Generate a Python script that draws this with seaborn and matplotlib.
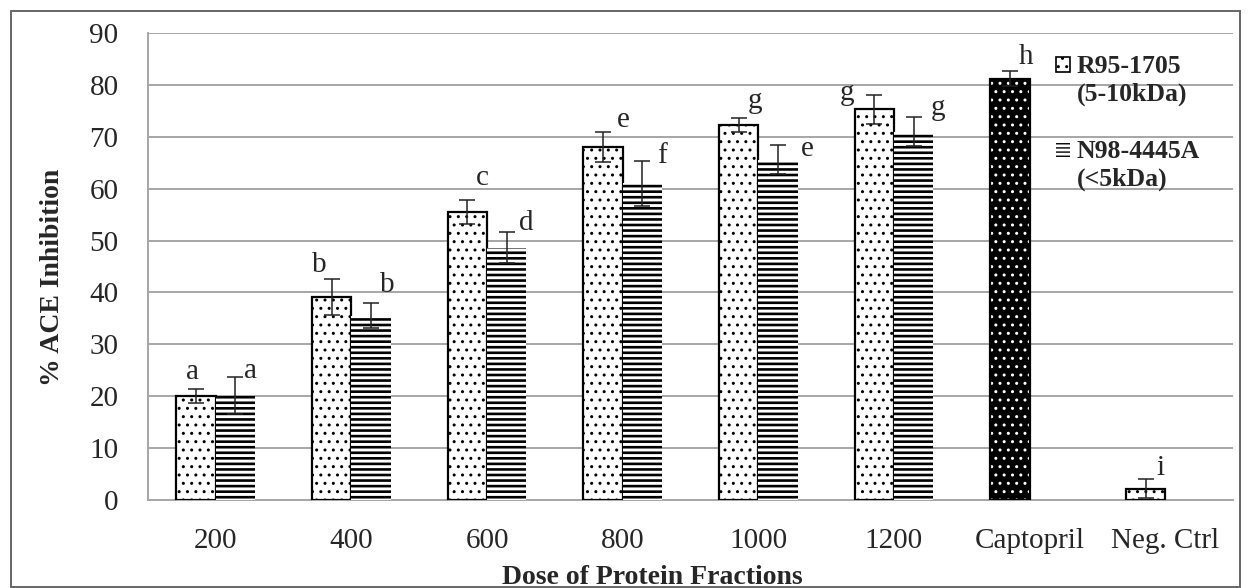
import numpy as np
import pandas as pd
import seaborn as sns
import matplotlib as mpl
import matplotlib.pyplot as plt
from matplotlib.patches import Rectangle, Patch

# ---------------- data ----------------
categories = ["200", "400", "600", "800", "1000", "1200", "Captopril", "Neg. Ctrl"]
series_names = ["R95-1705\n(5-10kDa)", "N98-4445A\n(<5kDa)"]

r95_mean = [20.0, 39.1, 55.5, 68.1, 72.3, 75.3, 81.2, 2.2]
r95_err = [1.4, 3.5, 2.3, 2.9, 1.4, 2.8, 1.5, 1.9]
r95_letters = ["a", "b", "c", "e", "g", "g", "h", "i"]

n98_cats = ["200", "400", "600", "800", "1000", "1200"]
n98_mean = [20.1, 35.5, 48.6, 61.0, 65.6, 71.0]
n98_err = [3.6, 2.4, 3.0, 4.4, 2.8, 2.8]
n98_letters = ["a", "b", "d", "f", "e", "g"]

yticks = [0, 10, 20, 30, 40, 50, 60, 70, 80, 90]

# label offsets (pixels) from the error-bar top
r95_off = [(-4, 17), (-13, 14), (15, 22), (20, 12), (16, 17), (-27, 2), (16, 14), (15, 11)]
n98_off = [(15, 6), (16, 18), (20, 9), (20, 5), (29, -4), (24, 9)]

# ---------------- style ----------------
sns.set_style("white")
plt.rcParams["font.family"] = ["Liberation Serif", "DejaVu Serif"]
plt.rcParams["hatch.linewidth"] = 1.0

TICK_FS = 21
LAB_FS = 20
LEG_FS = 18.5
LEG_LS = 1.24

df = pd.DataFrame({
    "dose": categories + n98_cats,
    "value": r95_mean + n98_mean,
    "series": [series_names[0]] * len(categories) + [series_names[1]] * len(n98_cats),
})

fig = plt.figure(figsize=(12.48, 5.88), dpi=100)
ax = fig.add_axes([148 / 1248, 1 - 500 / 588, 1085 / 1248, 467 / 588])

sns.barplot(data=df, x="dose", y="value", hue="series", order=categories,
            hue_order=series_names, width=0.58, errorbar=None, saturation=1,
            palette=["white", "white"], legend=False, ax=ax, zorder=3)

GRID = "#a6a6a6"


def set_hlw(p, lw):
    if hasattr(p, "set_hatch_linewidth"):
        p.set_hatch_linewidth(lw)


centers = {0: {}, 1: {}}
for k, cont in enumerate(ax.containers[:2]):
    for bar in cont:
        if np.isnan(bar.get_height()):
            continue
        cx = bar.get_x() + bar.get_width() / 2
        idx = int(round(cx))
        centers[k][idx] = cx
        if k == 0:
            if categories[idx] == "Captopril":
                bar.set_facecolor("black")
                bar.set_edgecolor("white")
                bar.set_hatch("..")
                bar.set_linewidth(0)
                set_hlw(bar, 1.0)
                ax.add_patch(Rectangle((bar.get_x(), bar.get_y()), bar.get_width(),
                                       bar.get_height(), fill=False, edgecolor="black",
                                       linewidth=1.6, zorder=3.5))
            else:
                bar.set_facecolor("white")
                bar.set_edgecolor("black")
                bar.set_hatch("..")
                bar.set_linewidth(1.6)
                set_hlw(bar, 1.0)
        else:
            bar.set_facecolor("white")
            bar.set_edgecolor("black")
            bar.set_hatch("---")
            bar.set_linewidth(0)
            set_hlw(bar, 1.9)

# error bars
x0 = [centers[0][i] for i in range(len(categories))]
x1 = [centers[1][i] for i in range(len(n98_cats))]
ax.errorbar(x0, r95_mean, yerr=r95_err, fmt="none", ecolor="#222222",
            elinewidth=1.1, capsize=6, capthick=1.1, zorder=4)
ax.errorbar(x1, n98_mean, yerr=n98_err, fmt="none", ecolor="#222222",
            elinewidth=1.1, capsize=6, capthick=1.1, zorder=4)

# letters
for x, m, e, t, o in zip(x0, r95_mean, r95_err, r95_letters, r95_off):
    ax.annotate(t, xy=(x, m + e), xytext=o, textcoords="offset pixels",
                ha="center", va="center", fontsize=TICK_FS, zorder=5)
for x, m, e, t, o in zip(x1, n98_mean, n98_err, n98_letters, n98_off):
    ax.annotate(t, xy=(x, m + e), xytext=o, textcoords="offset pixels",
                ha="center", va="center", fontsize=TICK_FS, zorder=5)

# axes
ax.set_xlim(-0.5, len(categories) - 0.5)
ax.set_ylim(0, 90)
ax.set_yticks(yticks)
ax.set_yticklabels([str(v) for v in yticks])
ax.set_xticks(range(len(categories)))
ax.set_xticklabels(categories)
ax.set_xticks(np.arange(-0.5, len(categories)), minor=True)
ax.tick_params(axis="x", which="major", length=0, pad=20, labelsize=TICK_FS)
ax.tick_params(axis="x", which="minor", length=6.5, width=1.1, color=GRID, direction="out")
ax.tick_params(axis="y", which="major", length=7.2, width=1.1, color=GRID,
               direction="out", pad=14, labelsize=TICK_FS)
ax.yaxis.grid(True, color=GRID, linewidth=1.4, zorder=0)
ax.set_axisbelow(True)
for s in ["top", "right"]:
    ax.spines[s].set_visible(False)
for s in ["left", "bottom"]:
    ax.spines[s].set_color(GRID)
    ax.spines[s].set_linewidth(1.4)

ax.set_ylabel("% ACE Inhibition", fontsize=LAB_FS, fontweight="bold")
ax.set_xlabel("Dose of Protein Fractions", fontsize=LAB_FS, fontweight="bold")
ax.yaxis.label.set_va("center")
ax.xaxis.label.set_va("center")
ax.yaxis.set_label_coords(-0.0876, 0.477)
ax.xaxis.set_label_coords(0.4645, -0.165)

# legend
handles = [Patch(facecolor="white", edgecolor="black", hatch="..", linewidth=1.2),
           Patch(facecolor="white", edgecolor="black", hatch="----", linewidth=0)]
leg = ax.legend(handles, series_names, loc="upper left",
                bbox_to_anchor=(1056 / 1248, 1 - 55 / 588), bbox_transform=fig.transFigure,
                frameon=False, prop={"weight": "bold", "size": LEG_FS},
                handlelength=0.55, handleheight=0.55, handletextpad=0.25,
                labelspacing=1.35, borderpad=0, borderaxespad=0)
leg.set_zorder(6)
for t in leg.get_texts():
    t.set_linespacing(LEG_LS)
# put each legend key beside the first line of its two-line label
line_shift = 0.5 * LEG_FS * LEG_LS * 0.98
for h in leg.legend_handles:
    h.set_y(h.get_y() + line_shift)
    set_hlw(h, 1.0)

# outer chart frame
fig.patches.append(Rectangle((10.5 / 1248, 1 / 588), 1229 / 1248, 576.5 / 588,
                             transform=fig.transFigure, fill=False,
                             edgecolor="#666666", linewidth=1.4))

fig.savefig("out.png", dpi=100)
